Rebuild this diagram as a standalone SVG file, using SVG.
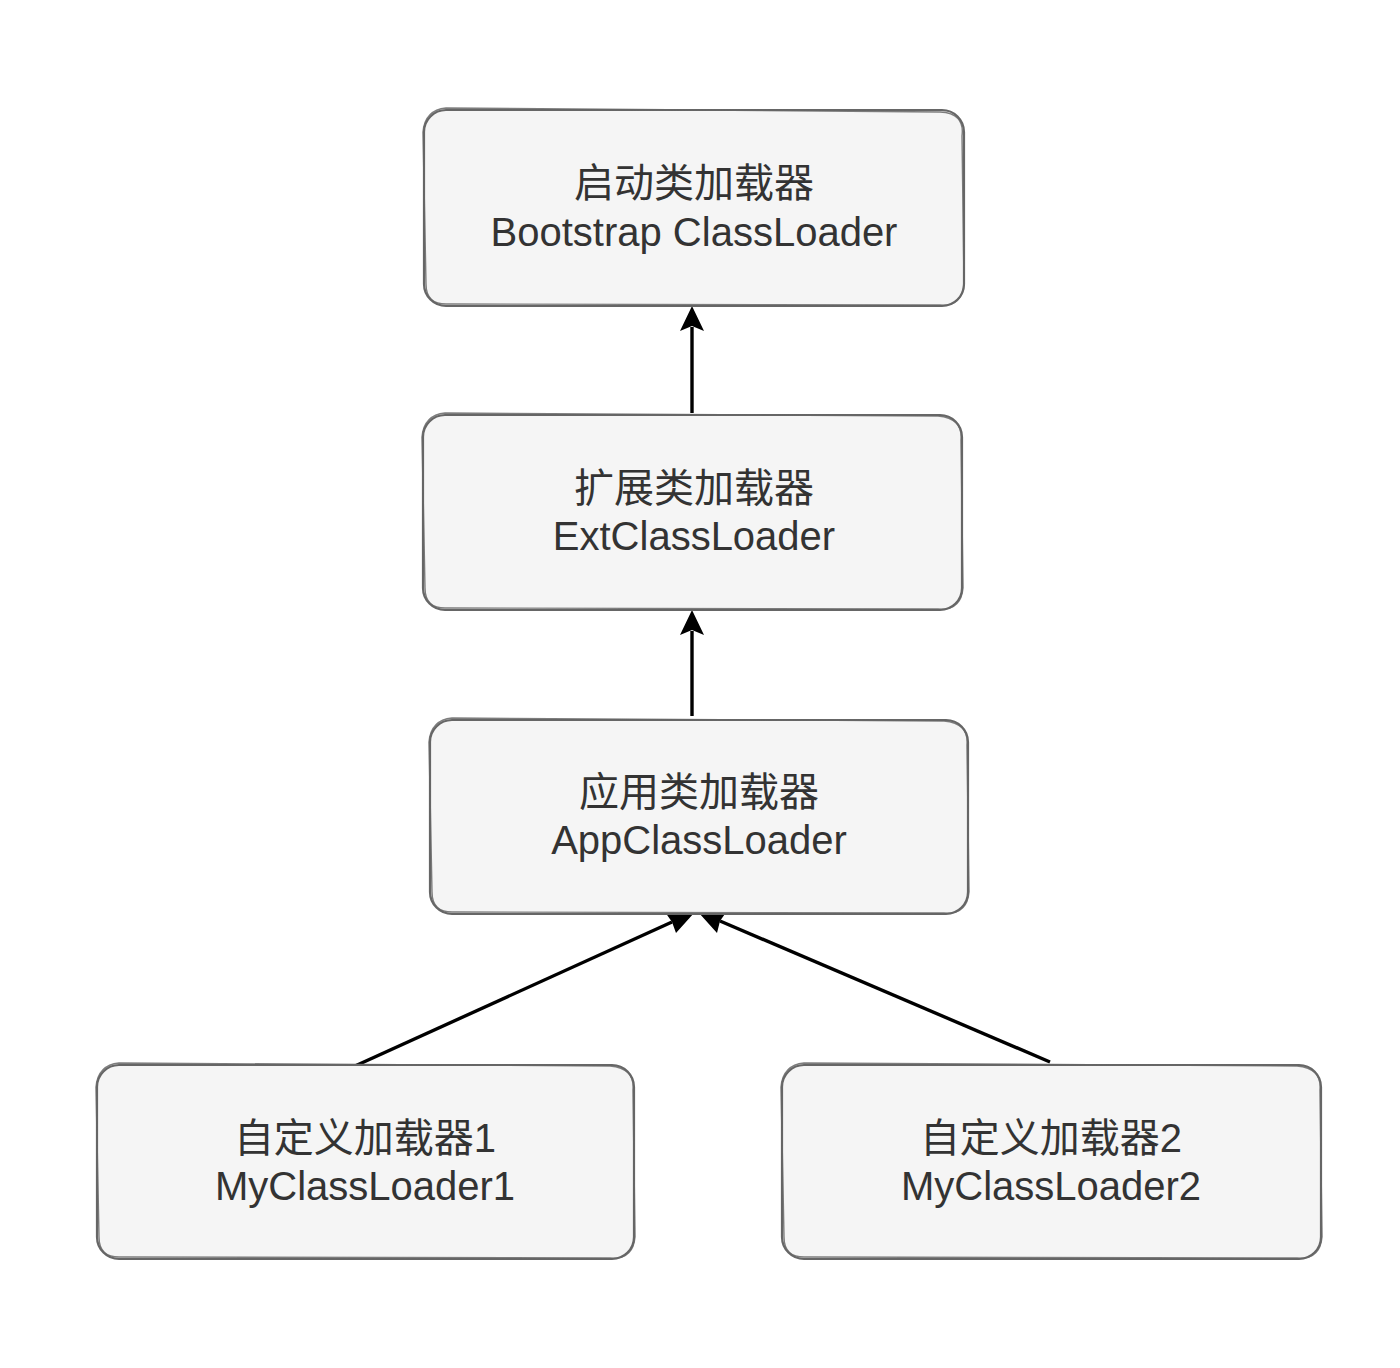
<svg xmlns="http://www.w3.org/2000/svg" width="1400" height="1368" viewBox="0 0 1400 1368">
<style>
.box{fill:#f5f5f5;stroke:#666;stroke-width:2.2}
.sk{fill:none;stroke:#666;stroke-width:1.4;opacity:0.85}
.t{font-family:"Liberation Sans","Noto Sans CJK SC",sans-serif;font-size:40px;fill:#333;text-anchor:middle}
.c{stroke:#000;stroke-width:3.4;fill:none}
</style>
<rect width="1400" height="1368" fill="#fff"/>
<g id="connectors">
<line class="c" x1="692" y1="413" x2="692" y2="327"/>
<path d="M692,306 L704,331 L692,326 L680,331 Z" fill="#000"/>
<line class="c" x1="692" y1="716" x2="692" y2="631"/>
<path d="M692,610 L704,635 L692,630 L680,635 Z" fill="#000"/>
<line class="c" x1="355" y1="1066" x2="672" y2="922"/>
<path d="M694,913 L676,933 L672,922 L665,912 Z" fill="#000"/>
<line class="c" x1="1050" y1="1062" x2="720" y2="921"/>
<path d="M699,913 L727,911 L720,921 L717,933 Z" fill="#000"/>
</g>
<g id="node-bootstrap">
<rect class="box" x="424" y="110" width="540" height="196" rx="22"/>
<path class="sk" d="M446,108 L940,112 Q965,113 962,136 L964,284 Q962,307 940,305 L448,304 Q426,305 426,284 L423,132 Q425,110 446,108 Z"/>
<text class="t" x="694" y="197">启动类加载器</text>
<text class="t" x="694" y="246">Bootstrap ClassLoader</text>
</g>
<g id="node-ext">
<rect class="box" x="423" y="415" width="539" height="195" rx="22"/>
<path class="sk" d="M445,413 L938,416 Q963,418 961,440 L963,588 Q961,611 938,609 L447,608 Q425,609 425,588 L422,437 Q424,415 445,413 Z"/>
<text class="t" x="694" y="502">扩展类加载器</text>
<text class="t" x="694" y="550">ExtClassLoader</text>
</g>
<g id="node-app">
<rect class="box" x="430" y="720" width="538" height="194" rx="22"/>
<path class="sk" d="M452,718 L944,721 Q969,723 967,745 L969,892 Q967,915 944,913 L454,912 Q432,913 432,892 L429,742 Q431,720 452,718 Z"/>
<text class="t" x="699" y="806">应用类加载器</text>
<text class="t" x="699" y="854">AppClassLoader</text>
</g>
<g id="node-my1">
<rect class="box" x="97" y="1065" width="537" height="194" rx="22"/>
<path class="sk" d="M119,1063 L610,1066 Q635,1068 633,1090 L635,1237 Q633,1260 610,1258 L121,1257 Q99,1258 99,1237 L96,1087 Q98,1065 119,1063 Z"/>
<text class="t" x="365" y="1152">自定义加载器1</text>
<text class="t" x="365" y="1200">MyClassLoader1</text>
</g>
<g id="node-my2">
<rect class="box" x="782" y="1065" width="539" height="194" rx="22"/>
<path class="sk" d="M804,1063 L1297,1066 Q1322,1068 1320,1090 L1322,1237 Q1320,1260 1297,1258 L806,1257 Q784,1258 784,1237 L781,1087 Q783,1065 804,1063 Z"/>
<text class="t" x="1051" y="1152">自定义加载器2</text>
<text class="t" x="1051" y="1200">MyClassLoader2</text>
</g>
</svg>
